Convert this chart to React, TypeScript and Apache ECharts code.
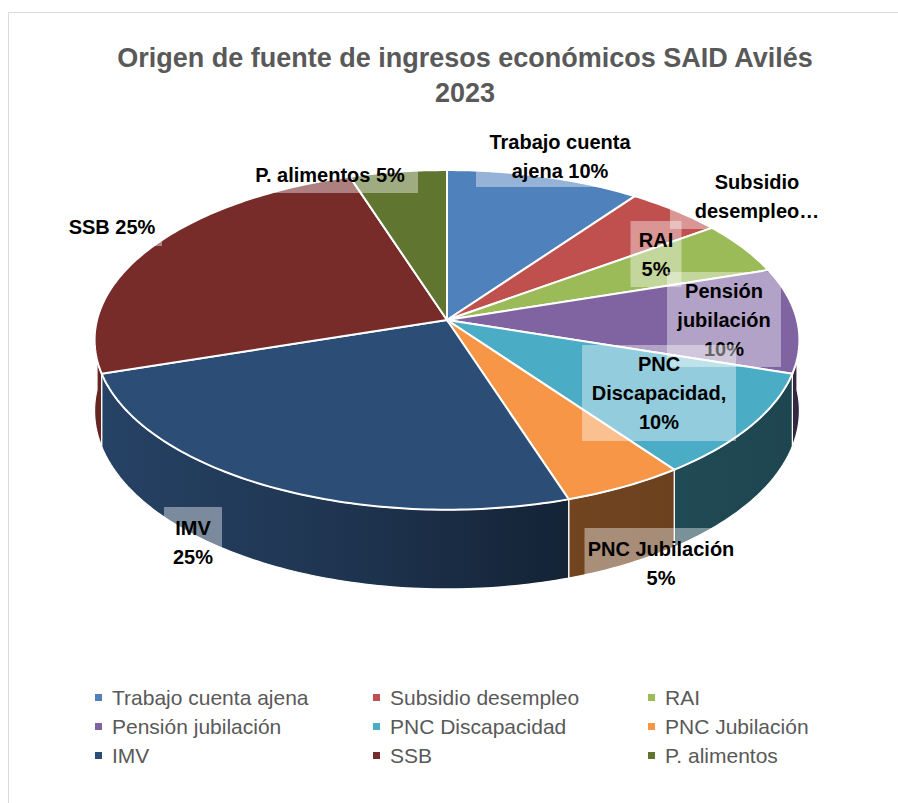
import React, { useEffect, useRef } from "react";
import * as echarts from "echarts";

// ---------- data ----------
const categories = [
  "Trabajo cuenta ajena",
  "Subsidio desempleo",
  "RAI",
  "Pensión jubilación",
  "PNC Discapacidad",
  "PNC Jubilación",
  "IMV",
  "SSB",
  "P. alimentos",
];
const shares = [10, 5, 5, 10, 10, 5, 25, 25, 5];
const dataLabels = [
  "Trabajo cuenta\najena 10%",
  "Subsidio\ndesempleo…",
  "RAI\n5%",
  "Pensión\njubilación\n10%",
  "PNC\nDiscapacidad,\n10%",
  "PNC Jubilación\n5%",
  "IMV\n25%",
  "SSB 25%",
  "P. alimentos 5%",
];
const titleText = "Origen de fuente de ingresos económicos SAID Avilés\n2023";
const legendColumns = [
  [0, 3, 6],
  [1, 4, 7],
  [2, 5, 8],
];

// ---------- style / layout ----------
const topColors = ["#4F81BD", "#C0504D", "#9BBB59", "#8064A2", "#4BACC6", "#F79646", "#2C4D75", "#772C2A", "#5F7530"];
const FONT = '"Liberation Sans", Arial, sans-serif';
const CX = 447, CY = 320, RX = 350, RY = 167.5, P = 0.117, H = 70;
// label boxes: [centerX, top, width, height]
const labelBoxes: number[][] = [
  [560, 125, 168, 62],
  [757, 163, 174, 66],
  [656, 221, 51, 66],
  [724, 272, 114, 95],
  [659, 345, 154, 96],
  [661, 528, 153, 70],
  [193, 507, 58, 71],
  [112, 208, 100, 38],
  [330, 157, 176, 36],
];
const legendLefts = [95, 373, 648];

function shade(hex: string, f: number) {
  const n = parseInt(hex.slice(1), 16);
  const r = Math.round(((n >> 16) & 255) * f);
  const g = Math.round(((n >> 8) & 255) * f);
  const b = Math.round((n & 255) * f);
  return `rgb(${r},${g},${b})`;
}

function proj(theta: number, depth: number) {
  const u = Math.sin(theta);
  const v = Math.cos(theta);
  const w = 1 + P * v;
  return [CX + (RX * u) / w, CY - (RY * v) / w + (depth * H) / w];
}

const TOTAL = shares.reduce((a, b) => a + b, 0);
const starts = shares.map((_, i) => shares.slice(0, i).reduce((a, b) => a + b, 0));

export default function App() {
  const ref = useRef<HTMLDivElement>(null);
  useEffect(() => {
    if (!ref.current) return;
    const chart = echarts.init(ref.current, undefined, { renderer: "svg" });
    const pieData = shares.map((v, i) => ({ value: v, name: categories[i], itemStyle: { color: topColors[i] } }));

    const renderPie = (params: any, api: any) => {
      const i = params.dataIndex;
      const val = api.value(0);
      const a0 = (starts[i] / TOTAL) * Math.PI * 2;
      const a1 = a0 + (val / TOTAL) * Math.PI * 2;
      const children: any[] = [];
      const w0 = Math.max(a0, Math.PI / 2);
      const w1 = Math.min(a1, (Math.PI * 3) / 2);
      if (w1 > w0) {
        const n = Math.max(2, Math.ceil((w1 - w0) / (Math.PI / 180)));
        const topEdge: number[][] = [];
        const botEdge: number[][] = [];
        for (let k = 0; k <= n; k++) {
          const t = w0 + ((w1 - w0) * k) / n;
          topEdge.push(proj(t, 0));
          botEdge.push(proj(t, 1));
        }
        const c = topColors[i];
        const grad = new echarts.graphic.LinearGradient(
          95, 0, 800, 0,
          [
            { offset: 0, color: shade(c, 0.86) },
            { offset: 0.3, color: shade(c, 0.72) },
            { offset: 0.67, color: shade(c, 0.46) },
            { offset: 1, color: shade(c, 0.4) },
          ],
          true
        );
        children.push({
          type: "polygon",
          shape: { points: topEdge.concat(botEdge.reverse()) },
          style: { fill: grad, stroke: "#ffffff", lineWidth: 1.2 },
        });
      }
      const n2 = Math.max(2, Math.ceil((a1 - a0) / (Math.PI / 180)));
      const pts: number[][] = [[CX, CY]];
      for (let k = 0; k <= n2; k++) pts.push(proj(a0 + ((a1 - a0) * k) / n2, 0));
      children.push({
        type: "polygon",
        shape: { points: pts },
        style: { fill: topColors[i], stroke: "#ffffff", lineWidth: 2 },
      });
      return { type: "group", children };
    };

    const renderLabel = (params: any) => {
      const i = params.dataIndex;
      const [bx, by, bw, bh] = labelBoxes[i];
      return {
        type: "group",
        children: [
          {
            type: "rect",
            shape: { x: bx - bw / 2, y: by, width: bw, height: bh },
            style: { fill: "rgba(255,255,255,0.4)" },
          },
          {
            type: "text",
            style: {
              text: dataLabels[i],
              x: bx,
              y: by + bh / 2,
              align: "center",
              verticalAlign: "middle",
              fontFamily: FONT,
              fontSize: 20,
              fontWeight: "bold",
              lineHeight: 29,
              fill: "#000000",
            },
          },
        ],
      };
    };

    chart.setOption({
      animation: false,
      backgroundColor: "#ffffff",
      title: {
        text: titleText,
        left: 460,
        top: 35,
        textAlign: "center",
        textStyle: { fontFamily: FONT, fontSize: 27, fontWeight: "bold", color: "#595959", lineHeight: 35 },
      },
      legend: legendColumns.map((col, ci) => ({
        orient: "vertical",
        left: legendLefts[ci],
        top: 687,
        padding: 0,
        data: col.map((j) => categories[j]),
        icon: "rect",
        itemWidth: 7,
        itemHeight: 7,
        itemGap: 8,
        selectedMode: false,
        textStyle: { fontFamily: FONT, fontSize: 21, lineHeight: 21, color: "#595959", padding: [0, 0, 0, 5] },
      })),
      graphic: [
        {
          type: "rect",
          shape: { x: 8.5, y: 12.5, width: 900, height: 800 },
          style: { fill: "none", stroke: "#D9D9D9", lineWidth: 1 },
          silent: true,
        },
      ],
      series: [
        {
          type: "pie",
          center: [-500, -500],
          radius: 5,
          silent: true,
          label: { show: false },
          labelLine: { show: false },
          data: pieData,
        },
        {
          type: "custom",
          coordinateSystem: "none",
          silent: true,
          z: 2,
          data: pieData.map((d) => ({ value: d.value, name: d.name })),
          renderItem: renderPie,
        },
        {
          type: "custom",
          coordinateSystem: "none",
          silent: true,
          z: 5,
          data: pieData.map((d) => ({ value: d.value, name: d.name })),
          renderItem: renderLabel,
        },
      ],
    });
    return () => chart.dispose();
  }, []);
  return <div ref={ref} style={{ position: "absolute", left: 0, top: 0, width: 898, height: 803 }} />;
}
